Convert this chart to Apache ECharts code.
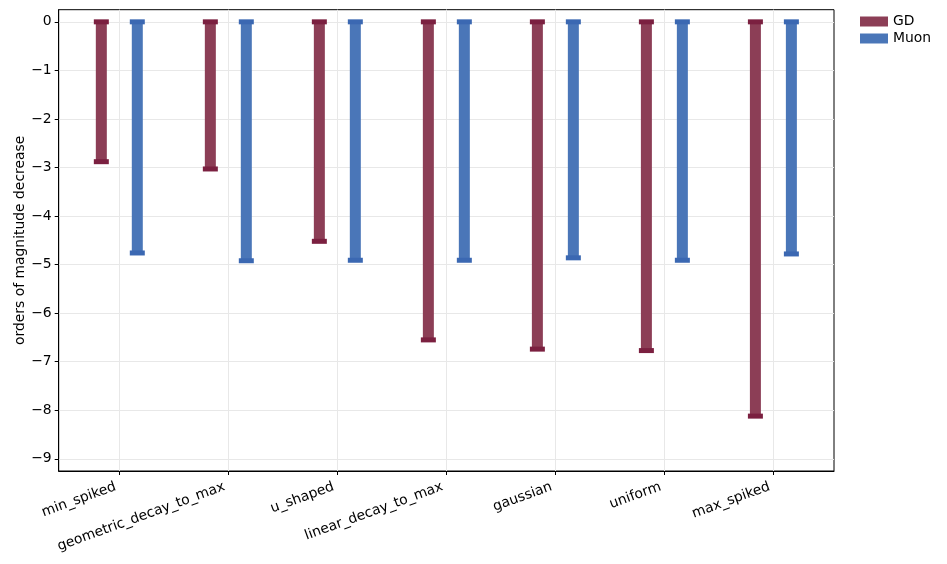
<!DOCTYPE html>
<html>
<head>
<meta charset="utf-8">
<script src="https://cdn.jsdelivr.net/npm/echarts@6/dist/echarts.min.js"></script>
<style>html,body{margin:0;padding:0;background:#fff;}#c{width:947px;height:564px;}</style>
</head>
<body>
<div id="c"></div>
<script>
const categories = ['min_spiked','geometric_decay_to_max','u_shaped','linear_decay_to_max','gaussian','uniform','max_spiked'];
const gdValues = [-2.88, -3.03, -4.52, -6.55, -6.74, -6.77, -8.12];
const muonValues = [-4.76, -4.92, -4.91, -4.91, -4.86, -4.91, -4.78];
const yTicks = [0, -1, -2, -3, -4, -5, -6, -7, -8, -9];
const xTicks = categories.map((c, i) => i);

const FONT = 'DejaVu Sans';
const FS = 13.9;
function makeRender(offset, body, cap) {
  return function (params, api) {
    const x = api.value(0), v = api.value(1);
    const a = api.coord([x + offset, 0]);
    const b = api.coord([x + offset, v]);
    const bw = 11, cw = 15, ch = 5;
    return {
      type: 'group',
      children: [
        {type: 'rect', shape: {x: a[0] - bw / 2, y: a[1], width: bw, height: b[1] - a[1]}, style: {fill: body}},
        {type: 'rect', shape: {x: a[0] - cw / 2, y: a[1] - ch / 2, width: cw, height: ch}, style: {fill: cap}},
        {type: 'rect', shape: {x: b[0] - cw / 2, y: b[1] - ch / 2, width: cw, height: ch}, style: {fill: cap}}
      ]
    };
  };
}
const chart = echarts.init(document.getElementById('c'), null, {renderer: 'canvas'});
chart.setOption({
  animation: false,
  textStyle: {fontFamily: FONT},
  grid: {left: 58.7, top: 9.7, right: 113, bottom: 93, containLabel: false, outerBoundsMode: 'none', show: true, borderColor: '#000', borderWidth: 1, backgroundColor: 'transparent'},
  legend: {
    left: 855, top: 9.5, orient: 'vertical', itemWidth: 28, itemHeight: 10, itemGap: 3,
    textStyle: {fontFamily: FONT, fontSize: FS, color: '#000'},
    data: [{name: 'GD', icon: 'rect'}, {name: 'Muon', icon: 'rect'}]
  },
  xAxis: {
    type: 'value', min: -0.556, max: 6.556,
    axisLine: {show: true, onZero: false, lineStyle: {color: '#000', width: 1}},
    axisTick: {show: true, customValues: xTicks, length: 4, lineStyle: {color: '#000'}},
    axisLabel: {
      customValues: xTicks, rotate: 20, fontSize: FS, color: '#000', fontFamily: FONT, margin: 14,
      padding: [0, 4, 0, 0],
      formatter: v => categories[Math.round(v)]
    },
    splitLine: {show: true, lineStyle: {color: '#e8e8e8', width: 1}}
  },
  yAxis: {
    type: 'value', min: -9.25, max: 0.25,
    name: 'orders of magnitude decrease', nameLocation: 'middle', nameGap: 31, nameMoveOverlap: false,
    nameTextStyle: {fontSize: FS, color: '#000', fontFamily: FONT},
    axisLine: {show: true, onZero: false, lineStyle: {color: '#000', width: 1}},
    axisTick: {show: true, customValues: yTicks, length: 4, lineStyle: {color: '#000'}},
    axisLabel: {
      customValues: yTicks, fontSize: FS, color: '#000', fontFamily: FONT, margin: 7,
      formatter: v => (v < 0 ? '\u2212' + (-v) : String(v))
    },
    splitLine: {show: true, lineStyle: {color: '#e8e8e8', width: 1}}
  },
  series: [
    {
      name: 'GD', type: 'custom', z: 3,
      itemStyle: {color: '#8c3e56'},
      renderItem: makeRender(-0.165, '#8c3e56', '#7b2040'),
      encode: {x: 0, y: 1},
      data: categories.map((c, i) => [i, gdValues[i]])
    },
    {
      name: 'Muon', type: 'custom', z: 3,
      itemStyle: {color: '#4a76b8'},
      renderItem: makeRender(0.165, '#4a76b8', '#3b68b2'),
      encode: {x: 0, y: 1},
      data: categories.map((c, i) => [i, muonValues[i]])
    }
  ]
});
</script>
</body>
</html>
